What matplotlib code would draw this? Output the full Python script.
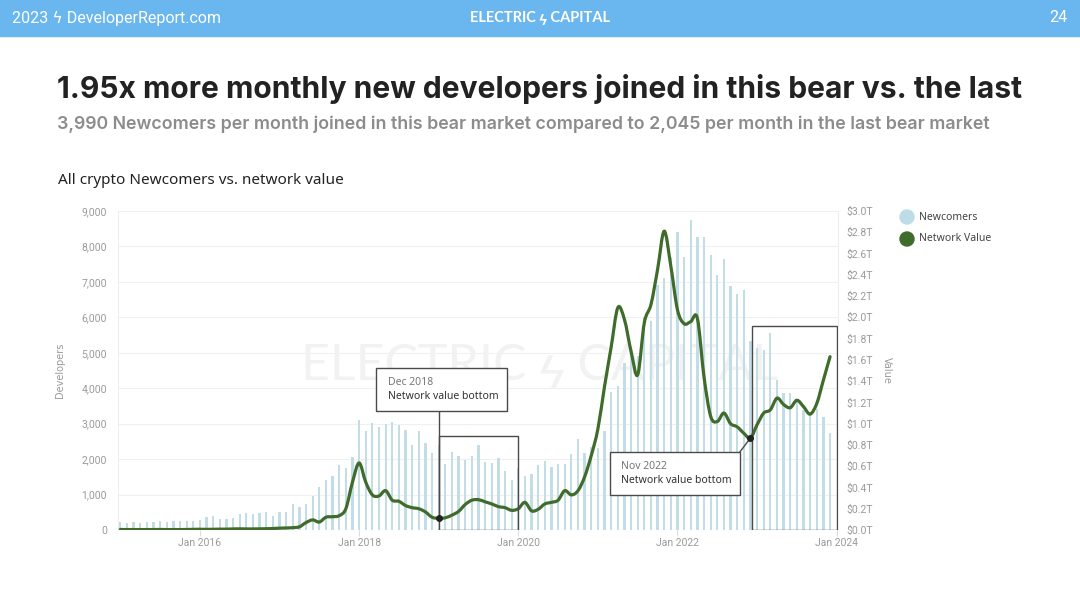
import numpy as np
import matplotlib.pyplot as plt
from matplotlib.patches import Rectangle, PathPatch, Ellipse
from matplotlib.path import Path
from matplotlib.ticker import FuncFormatter, MultipleLocator

# monthly newcomers, Jan 2015 .. Dec 2023
newcomers_2015 = [230, 210, 230, 200, 230, 220, 240, 230, 250, 240, 250, 240]
newcomers_2016 = [280, 360, 400, 320, 320, 350, 450, 480, 450, 480, 500, 400]
newcomers_2017 = [500, 500, 730, 660, 740, 970, 1200, 1420, 1520, 1840, 1760, 2060]
newcomers_2018 = [3090, 2800, 3030, 2920, 2990, 3050, 2970, 2830, 2400, 2780, 2450, 2180]
newcomers_2019 = [2400, 1860, 2190, 2090, 1980, 2090, 2400, 1910, 1900, 2040, 1670, 1410]
newcomers_2020 = [1740, 1530, 1580, 1840, 1960, 1790, 1860, 1860, 2140, 2560, 2160, 2350]
newcomers_2021 = [2300, 2800, 3900, 4050, 4700, 5150, 4900, 6000, 5900, 6900, 7100, 7700]
newcomers_2022 = [8400, 7710, 8750, 8280, 8280, 7760, 7200, 7640, 6870, 6650, 6770, 5340]
newcomers_2023 = [5130, 5080, 5570, 4230, 3870, 3860, 3620, 3390, 3250, 3400, 3200, 2750]

# network value in $T, same months
value_2015 = [0.005, 0.004, 0.004, 0.004, 0.004, 0.004, 0.005, 0.004, 0.004, 0.004, 0.005, 0.006]
value_2016 = [0.007, 0.006, 0.007, 0.008, 0.008, 0.010, 0.011, 0.010, 0.010, 0.011, 0.012, 0.014]
value_2017 = [0.017, 0.019, 0.022, 0.030, 0.070, 0.095, 0.075, 0.120, 0.125, 0.135, 0.200, 0.450]
value_2018 = [0.630, 0.450, 0.330, 0.320, 0.370, 0.280, 0.270, 0.230, 0.210, 0.200, 0.170, 0.120]
value_2019 = [0.110, 0.115, 0.140, 0.175, 0.240, 0.280, 0.285, 0.265, 0.245, 0.220, 0.210, 0.185]
value_2020 = [0.200, 0.260, 0.180, 0.195, 0.245, 0.260, 0.280, 0.370, 0.330, 0.370, 0.500, 0.700]
value_2021 = [0.950, 1.350, 1.720, 2.090, 1.980, 1.680, 1.460, 1.950, 2.120, 2.450, 2.810, 2.480]
value_2022 = [2.070, 1.940, 1.960, 1.990, 1.440, 1.070, 1.020, 1.100, 1.000, 0.970, 0.910, 0.865]
value_2023 = [0.990, 1.100, 1.130, 1.240, 1.180, 1.150, 1.220, 1.160, 1.090, 1.190, 1.410, 1.630]

newcomers = (newcomers_2015 + newcomers_2016 + newcomers_2017 + newcomers_2018 + newcomers_2019
             + newcomers_2020 + newcomers_2021 + newcomers_2022 + newcomers_2023)
network_value = (value_2015 + value_2016 + value_2017 + value_2018 + value_2019
                 + value_2020 + value_2021 + value_2022 + value_2023)

tick_months = [12, 36, 60, 84, 108]
tick_labels = ['Jan 2016', 'Jan 2018', 'Jan 2020', 'Jan 2022', 'Jan 2024']

bottom_2018 = 48   # month index of the first bottom marker
bottom_2022 = 95   # month index of the second bottom marker

BAR_COLOR = '#c3dde6'
LINE_COLOR = '#3f6b2b'
GRAY = '#9a9a9a'
BOLT_FONTS = ['Roboto', 'DejaVu Sans']


def px(x, y):
    return x / 1080, 1 - y / 607


def smooth_path(xs, ys):
    # catmull-rom curve through the points, as cubic bezier segments
    pts = np.column_stack([xs, ys])
    verts = [pts[0]]
    codes = [Path.MOVETO]
    n = len(pts)
    for i in range(n - 1):
        p0 = pts[max(i - 1, 0)]
        p1 = pts[i]
        p2 = pts[i + 1]
        p3 = pts[min(i + 2, n - 1)]
        verts += [p1 + (p2 - p0) / 6, p2 - (p3 - p1) / 6, p2]
        codes += [Path.CURVE4] * 3
    return Path(verts, codes)


fig = plt.figure(figsize=(10.8, 6.07), dpi=100)

# header band
fig.patches.append(Rectangle((0, 1 - 36 / 607), 1, 36 / 607, transform=fig.transFigure,
                             color='#6ab6ee', zorder=0))
fig.text(*px(12, 18), '2023 ϟ DeveloperReport.com', color='white', fontsize=11.5,
         family=BOLT_FONTS, va='center', ha='left')
fig.text(*px(540, 18), 'ELECTRIC ϟ CAPITAL', color='white', fontsize=10.5,
         family=['Lato', 'DejaVu Sans'], weight='bold', va='center', ha='center')
fig.text(*px(1067, 18), '24', color='white', fontsize=11.5, family='Roboto',
         va='center', ha='right')

fig.text(*px(57, 89), '1.95x more monthly new developers joined in this bear vs. the last',
         fontsize=21.6, family='Inter', weight='bold', color='#222222', va='center', ha='left')
fig.text(*px(57, 124), '3,990 Newcomers per month joined in this bear market compared to '
         '2,045 per month in the last bear market',
         fontsize=12.8, family='Inter', weight='semibold', color='#8c8c8c', va='center', ha='left')
fig.text(*px(58, 180), 'All crypto Newcomers vs. network value', fontsize=11,
         family='Noto Sans', color='#222222', va='center', ha='left')

ax = fig.add_axes([118 / 1080, 1 - 530 / 607, 720 / 1080, 319 / 607])
ax.patch.set_alpha(0)

# watermark, behind the bars
ax.text(0.5, 1 - 366 / 607, 'ELECTRIC ϟ CAPITAL', transform=fig.transFigure, fontsize=36,
        family=['Lato', 'DejaVu Sans'], color='#f2f2f2', va='center', ha='center', zorder=1)

months = np.arange(len(newcomers))
ax.bar(months, newcomers, width=0.34, color=BAR_COLOR, zorder=2)
ax.set_xlim(-0.35, 108.2)
ax.set_ylim(0, 9000)
ax.yaxis.set_major_locator(MultipleLocator(1000))
ax.yaxis.set_major_formatter(FuncFormatter(lambda v, p: f'{int(v):,}'))
ax.set_xticks(tick_months)
ax.set_xticklabels(tick_labels)
ax.grid(axis='y', color='#f0f0f0', linewidth=0.8, zorder=0)
ax.set_axisbelow(True)
for s in ['top', 'right', 'bottom']:
    ax.spines[s].set_visible(False)
ax.spines['left'].set_color('#eeeeee')
ax.tick_params(axis='y', length=0, labelsize=7.5, labelcolor=GRAY, pad=8)
ax.tick_params(axis='x', length=4, color='#dddddd', labelsize=7.5, labelcolor=GRAY, pad=2)
ax.set_ylabel('Developers', fontsize=7, color=GRAY, labelpad=12)
for t in ax.get_yticklabels() + ax.get_xticklabels():
    t.set_family('Roboto')

ax2 = ax.twinx()
ax2.set_ylim(0, 3.0)
ax2.yaxis.set_major_locator(MultipleLocator(0.2))
ax2.yaxis.set_major_formatter(FuncFormatter(lambda v, p: f'${v:.1f}T'))
for s in ax2.spines.values():
    s.set_visible(False)
ax2.spines['right'].set_visible(True)
ax2.spines['right'].set_color('#eeeeee')
ax2.tick_params(axis='y', length=0, labelsize=7.5, labelcolor=GRAY, pad=6)
for t in ax2.get_yticklabels():
    t.set_family('Roboto')
ax2.set_ylabel('Value', fontsize=7, color=GRAY, rotation=270, labelpad=14)

ax2.add_patch(PathPatch(smooth_path(months, network_value), facecolor='none',
                        edgecolor=LINE_COLOR, linewidth=2.3, capstyle='round', zorder=3))

# highlight rectangles (drawn in developer units)
ax2.add_patch(Rectangle((48, 0), 12, 2650, transform=ax.transData, fill=False,
                        edgecolor='#4a4a4a', linewidth=1.0, zorder=4))
ax2.add_patch(Rectangle((95.2, 0), 12.8, 5760, transform=ax.transData, fill=False,
                        edgecolor='#4a4a4a', linewidth=1.0, zorder=4))

# annotation 1
ax2.plot([bottom_2018, bottom_2018], [3360 / 3000, network_value[bottom_2018]],
         color='#4a4a4a', linewidth=1.0, zorder=4)
ax2.add_patch(Rectangle((38.5, 3360), 19.8, 1210, transform=ax.transData, facecolor='white',
                        edgecolor='#4a4a4a', linewidth=1.0, zorder=5))
ax2.text(40.3, 4150, 'Dec 2018', transform=ax.transData, fontsize=7.5, color='#777777',
         family='Noto Sans', va='center', zorder=6)
ax2.text(40.3, 3780, 'Network value bottom', transform=ax.transData, fontsize=7.5,
         color='#333333', family='Noto Sans', weight='semibold', va='center', zorder=6)

# annotation 2
ax2.plot([93.4, bottom_2022], [2200 / 3000, network_value[bottom_2022]],
         color='#4a4a4a', linewidth=1.0, zorder=4)
ax2.add_patch(Rectangle((73.8, 990), 19.6, 1210, transform=ax.transData, facecolor='white',
                        edgecolor='#4a4a4a', linewidth=1.0, zorder=5))
ax2.text(75.5, 1780, 'Nov 2022', transform=ax.transData, fontsize=7.5, color='#777777',
         family='Noto Sans', va='center', zorder=6)
ax2.text(75.5, 1410, 'Network value bottom', transform=ax.transData, fontsize=7.5,
         color='#333333', family='Noto Sans', weight='semibold', va='center', zorder=6)

ax2.scatter([bottom_2018, bottom_2022],
            [network_value[bottom_2018], network_value[bottom_2022]],
            s=16, color='#222222', zorder=7)

# legend
fig.patches.append(Ellipse(px(907, 217), 14 / 1080, 14 / 607, transform=fig.transFigure,
                           color='#bcdde8'))
fig.patches.append(Ellipse(px(907, 239), 14 / 1080, 14 / 607, transform=fig.transFigure,
                           color=LINE_COLOR))
fig.text(*px(919, 217), 'Newcomers', fontsize=7.5, color='#444444', family='Noto Sans', va='center')
fig.text(*px(919, 239), 'Network Value', fontsize=7.5, color='#444444', family='Noto Sans',
         va='center')

fig.savefig('out.png', dpi=100)
